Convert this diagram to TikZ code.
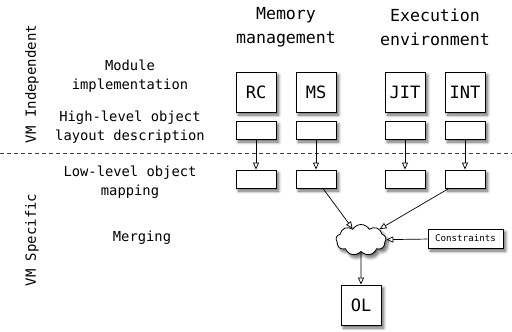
\documentclass[tikz,border=0pt]{standalone}
\usepackage{fontspec}
\setmainfont{DejaVu Sans Mono}
\usetikzlibrary{arrows.meta,shapes.symbols,shadows.blur}

\tikzset{
  shade box/.style={blur shadow={shadow xshift=2.5pt, shadow yshift=-3pt,
      shadow blur steps=8, shadow opacity=60, shadow blur radius=3pt}},
  bigbox/.style={draw, fill=white, line width=0.9pt, minimum width=40pt,
      minimum height=40pt, inner sep=0pt, shade box,
      font=\fontsize{17}{20}\selectfont},
  slot/.style={draw, fill=white, line width=0.9pt, minimum width=40pt,
      minimum height=18pt, inner sep=0pt, shade box},
  tagbox/.style={draw, fill=white, line width=0.8pt, minimum width=75pt,
      minimum height=19pt, inner sep=0pt, shade box,
      font=\fontsize{9.2}{11}\selectfont},
  rowlabel/.style={align=center, font=\fontsize{13.8}{19}\selectfont},
  header/.style={align=center, font=\fontsize{16.6}{24}\selectfont},
  sidelabel/.style={rotate=90, font=\fontsize{14}{16}\selectfont},
  flow/.style={line width=0.7pt, -{Triangle[open, length=7pt, width=6pt]}},
}

\begin{document}
\begin{tikzpicture}[x=1pt, y=-1pt]
\useasboundingbox (0,0) rectangle (512,332);

% layer separator
\draw[black!75, line width=0.8pt, dash pattern=on 4pt off 3pt] (0,153) -- (512,153);

% side labels
\node[sidelabel] (vmi) at (32,84) {VM Independent};
\node[sidelabel] (vms) at (32,240) {VM Specific};

% row labels
\node[rowlabel] (modimpl) at (130,76.5) {Module\\implementation};
\node[rowlabel] (hilev) at (130,127.5) {High-level object\\layout description};
\node[rowlabel] (lolev) at (130,182.5) {Low-level object\\mapping};
\node[rowlabel] (merging) at (142,238) {Merging};

% column headers
\node[header] (memhdr) at (286,27) {Memory\\management};
\node[header] (exehdr) at (435,27) {Execution\\environment};

% modules
\node[bigbox] (rc)  at (256,92) {RC};
\node[bigbox] (ms)  at (316,92) {MS};
\node[bigbox] (jit) at (405,92) {JIT};
\node[bigbox] (int) at (465,92) {INT};

% high-level layout descriptions
\node[slot] (rch)  at (256,130) {};
\node[slot] (msh)  at (316,130) {};
\node[slot] (jith) at (405,130) {};
\node[slot] (inth) at (465,130) {};

% low-level mappings
\node[slot] (rcl)  at (256,179) {};
\node[slot] (msl)  at (316,179) {};
\node[slot] (jitl) at (405,179) {};
\node[slot] (intl) at (465,179) {};

% merging step
\node[cloud, cloud puffs=9, cloud puff arc=120, aspect=1.6, draw, fill=white,
      line width=0.8pt, minimum width=50pt, minimum height=31pt, inner sep=0pt,
      shade box] (merge) at (361,240) {};
\node[tagbox] (cons) at (465.5,238.5) {Constraints};
\node[bigbox] (ol) at (361,305) {OL};

% connectors
\draw[flow] (rch) -- (rcl);
\draw[flow] (msh) -- (msl);
\draw[flow] (jith) -- (jitl);
\draw[flow] (inth) -- (intl);
\draw[flow] (msl) -- (merge);
\draw[flow] (intl) -- (merge);
\draw[flow] (cons) -- (merge);
\draw[flow] (merge) -- (ol);
\end{tikzpicture}
\end{document}
